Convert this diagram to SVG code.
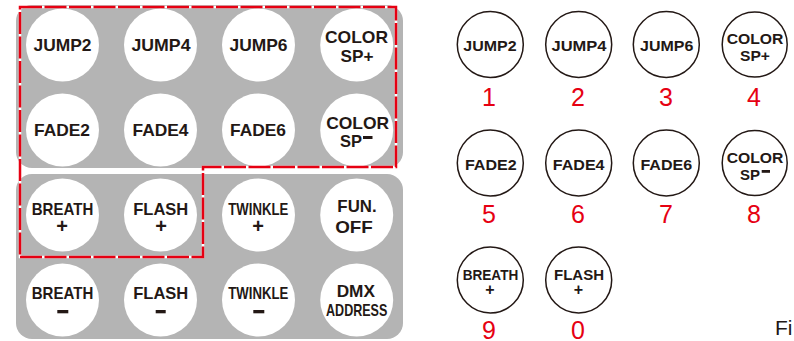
<svg xmlns="http://www.w3.org/2000/svg" width="794" height="341" viewBox="0 0 794 341">
<style>
.panel{fill:#b4b4b4}
.btn{fill:#ffffff}
.rbtn{fill:#ffffff;stroke:#231815;stroke-width:1.5}
.lt{font-family:"Liberation Sans",Arial,sans-serif;font-weight:bold;font-size:17px;fill:#231815;text-anchor:middle}
.rt{font-family:"Liberation Sans",Arial,sans-serif;font-weight:bold;font-size:15px;fill:#231815;text-anchor:middle}
.pl{font-family:"Liberation Sans",Arial,sans-serif;font-weight:bold;font-size:20px;fill:#231815;text-anchor:middle}
.rpl{font-family:"Liberation Sans",Arial,sans-serif;font-weight:bold;font-size:16px;fill:#231815;text-anchor:middle}
.bar{fill:#231815}
.num{font-family:"Liberation Sans",Arial,sans-serif;font-size:25px;fill:#e60012;text-anchor:middle}
.fi{font-family:"Liberation Sans",Arial,sans-serif;font-size:21px;fill:#231815}
.sel{fill:none;stroke:#e60012;stroke-width:2.5;stroke-dasharray:22 2.5}
.selbg{fill:none;stroke:#ffffff;stroke-width:2.5}
</style>
<g id="panels">
<rect class="panel" x="16" y="5" width="387" height="163" rx="16"/>
<rect class="panel" x="16" y="174" width="387" height="165" rx="16"/>
</g>
<g id="l-jump2"><circle class="btn" cx="62.5" cy="45" r="36.5"/><text class="lt" x="62.5" y="51" textLength="58" lengthAdjust="spacingAndGlyphs">JUMP2</text></g>
<g id="l-jump4"><circle class="btn" cx="160.5" cy="45" r="36.5"/><text class="lt" x="161" y="51" textLength="59" lengthAdjust="spacingAndGlyphs">JUMP4</text></g>
<g id="l-jump6"><circle class="btn" cx="258.5" cy="45" r="36.5"/><text class="lt" x="258.5" y="51" textLength="58" lengthAdjust="spacingAndGlyphs">JUMP6</text></g>
<g id="l-colorsp-plus"><circle class="btn" cx="356.7" cy="45" r="36.5"/><text class="lt" x="356.5" y="43.3" textLength="63" lengthAdjust="spacingAndGlyphs">COLOR</text><text class="lt" x="357" y="61.7" textLength="33" lengthAdjust="spacingAndGlyphs">SP+</text></g>
<g id="l-fade2"><circle class="btn" cx="62.5" cy="130" r="36.5"/><text class="lt" x="62" y="136" textLength="56" lengthAdjust="spacingAndGlyphs">FADE2</text></g>
<g id="l-fade4"><circle class="btn" cx="160.5" cy="130" r="36.5"/><text class="lt" x="160.5" y="136" textLength="56" lengthAdjust="spacingAndGlyphs">FADE4</text></g>
<g id="l-fade6"><circle class="btn" cx="258.5" cy="130" r="36.5"/><text class="lt" x="258" y="136" textLength="56" lengthAdjust="spacingAndGlyphs">FADE6</text></g>
<g id="l-colorsp-minus"><circle class="btn" cx="356.7" cy="130" r="36.5"/><text class="lt" x="357.7" y="128.5" textLength="63" lengthAdjust="spacingAndGlyphs">COLOR</text><text class="lt" x="351" y="146.8" textLength="22" lengthAdjust="spacingAndGlyphs">SP</text><rect class="bar" x="363" y="136" width="9.5" height="3"/></g>
<g id="l-breath-plus"><circle class="btn" cx="62.5" cy="215" r="36.5"/><text class="lt" x="62.5" y="215" textLength="61.5" lengthAdjust="spacingAndGlyphs">BREATH</text><text class="pl" x="62" y="233">+</text></g>
<g id="l-flash-plus"><circle class="btn" cx="160.5" cy="215" r="36.5"/><text class="lt" x="160.8" y="215" textLength="55" lengthAdjust="spacingAndGlyphs">FLASH</text><text class="pl" x="161" y="233">+</text></g>
<g id="l-twinkle-plus"><circle class="btn" cx="258.5" cy="215" r="36.5"/><text class="lt" x="258.3" y="215" textLength="60" lengthAdjust="spacingAndGlyphs">TWINKLE</text><text class="pl" x="258" y="233">+</text></g>
<g id="l-fun-off"><circle class="btn" cx="356.7" cy="215" r="36.5"/><text class="lt" x="357" y="211.7" textLength="39.3" lengthAdjust="spacingAndGlyphs">FUN.</text><text class="lt" x="354" y="232.7" textLength="37.7" lengthAdjust="spacingAndGlyphs">OFF</text></g>
<g id="l-breath-minus"><circle class="btn" cx="62.5" cy="300" r="36.5"/><text class="lt" x="62.5" y="299.3" textLength="61.5" lengthAdjust="spacingAndGlyphs">BREATH</text><rect class="bar" x="57.3" y="310" width="11" height="3.3"/></g>
<g id="l-flash-minus"><circle class="btn" cx="160.5" cy="300" r="36.5"/><text class="lt" x="160.8" y="299.3" textLength="55" lengthAdjust="spacingAndGlyphs">FLASH</text><rect class="bar" x="155.7" y="310" width="10" height="3.3"/></g>
<g id="l-twinkle-minus"><circle class="btn" cx="258.5" cy="300" r="36.5"/><text class="lt" x="258.3" y="299.3" textLength="60" lengthAdjust="spacingAndGlyphs">TWINKLE</text><rect class="bar" x="253.3" y="310" width="11" height="3.3"/></g>
<g id="l-dmx"><circle class="btn" cx="356.7" cy="300" r="36.5"/><text class="lt" x="355.8" y="296.7" textLength="38.3" lengthAdjust="spacingAndGlyphs">DMX</text><text class="lt" x="356.7" y="315.7" textLength="61.3" lengthAdjust="spacingAndGlyphs">ADDRESS</text></g>
<g id="selection">
<path class="selbg" d="M20,7 H396 V167 H203 V257 H20 Z"/>
<path class="sel" d="M20,7 H396 V167 H203 V257 H20 Z"/>
</g>
<g id="r-jump2"><circle class="rbtn" cx="490.3" cy="44.5" r="33"/><text class="rt" x="490" y="50.7" textLength="53.3" lengthAdjust="spacingAndGlyphs">JUMP2</text><text class="num" x="489" y="106">1</text></g>
<g id="r-jump4"><circle class="rbtn" cx="578.7" cy="44.5" r="33"/><text class="rt" x="579" y="50.7" textLength="55" lengthAdjust="spacingAndGlyphs">JUMP4</text><text class="num" x="578" y="106">2</text></g>
<g id="r-jump6"><circle class="rbtn" cx="666.3" cy="44.5" r="33"/><text class="rt" x="666.7" y="50.7" textLength="53.3" lengthAdjust="spacingAndGlyphs">JUMP6</text><text class="num" x="666" y="106">3</text></g>
<g id="r-colorsp-plus"><circle class="rbtn" cx="754.7" cy="44.5" r="32.5"/><text class="rt" x="755" y="44.3" textLength="56.7" lengthAdjust="spacingAndGlyphs">COLOR</text><text class="rt" x="755" y="61" textLength="30" lengthAdjust="spacingAndGlyphs">SP+</text><text class="num" x="754" y="106">4</text></g>
<g id="r-fade2"><circle class="rbtn" cx="490.3" cy="163" r="33"/><text class="rt" x="490.8" y="169.5" textLength="51.7" lengthAdjust="spacingAndGlyphs">FADE2</text><text class="num" x="489" y="223.3">5</text></g>
<g id="r-fade4"><circle class="rbtn" cx="578.7" cy="163" r="33"/><text class="rt" x="578.7" y="169.5" textLength="51.7" lengthAdjust="spacingAndGlyphs">FADE4</text><text class="num" x="578" y="223.3">6</text></g>
<g id="r-fade6"><circle class="rbtn" cx="666.3" cy="163" r="33"/><text class="rt" x="666.3" y="169.5" textLength="51.7" lengthAdjust="spacingAndGlyphs">FADE6</text><text class="num" x="666" y="223.3">7</text></g>
<g id="r-colorsp-minus"><circle class="rbtn" cx="754.7" cy="163" r="32.5"/><text class="rt" x="755" y="162.8" textLength="56.7" lengthAdjust="spacingAndGlyphs">COLOR</text><text class="rt" x="750" y="179.5" textLength="20" lengthAdjust="spacingAndGlyphs">SP</text><rect class="bar" x="761.7" y="170" width="8.3" height="2.8"/><text class="num" x="754" y="223.3">8</text></g>
<g id="r-breath-plus"><circle class="rbtn" cx="490.3" cy="280" r="33"/><text class="rt" x="490.5" y="280" textLength="55.6" lengthAdjust="spacingAndGlyphs">BREATH</text><text class="rpl" x="490" y="295">+</text><text class="num" x="489" y="338.5">9</text></g>
<g id="r-flash-plus"><circle class="rbtn" cx="578.7" cy="280" r="33"/><text class="rt" x="579" y="280" textLength="50" lengthAdjust="spacingAndGlyphs">FLASH</text><text class="rpl" x="578.3" y="295">+</text><text class="num" x="578" y="338.5">0</text></g>
<text class="fi" x="775" y="335">Fi</text>
</svg>
